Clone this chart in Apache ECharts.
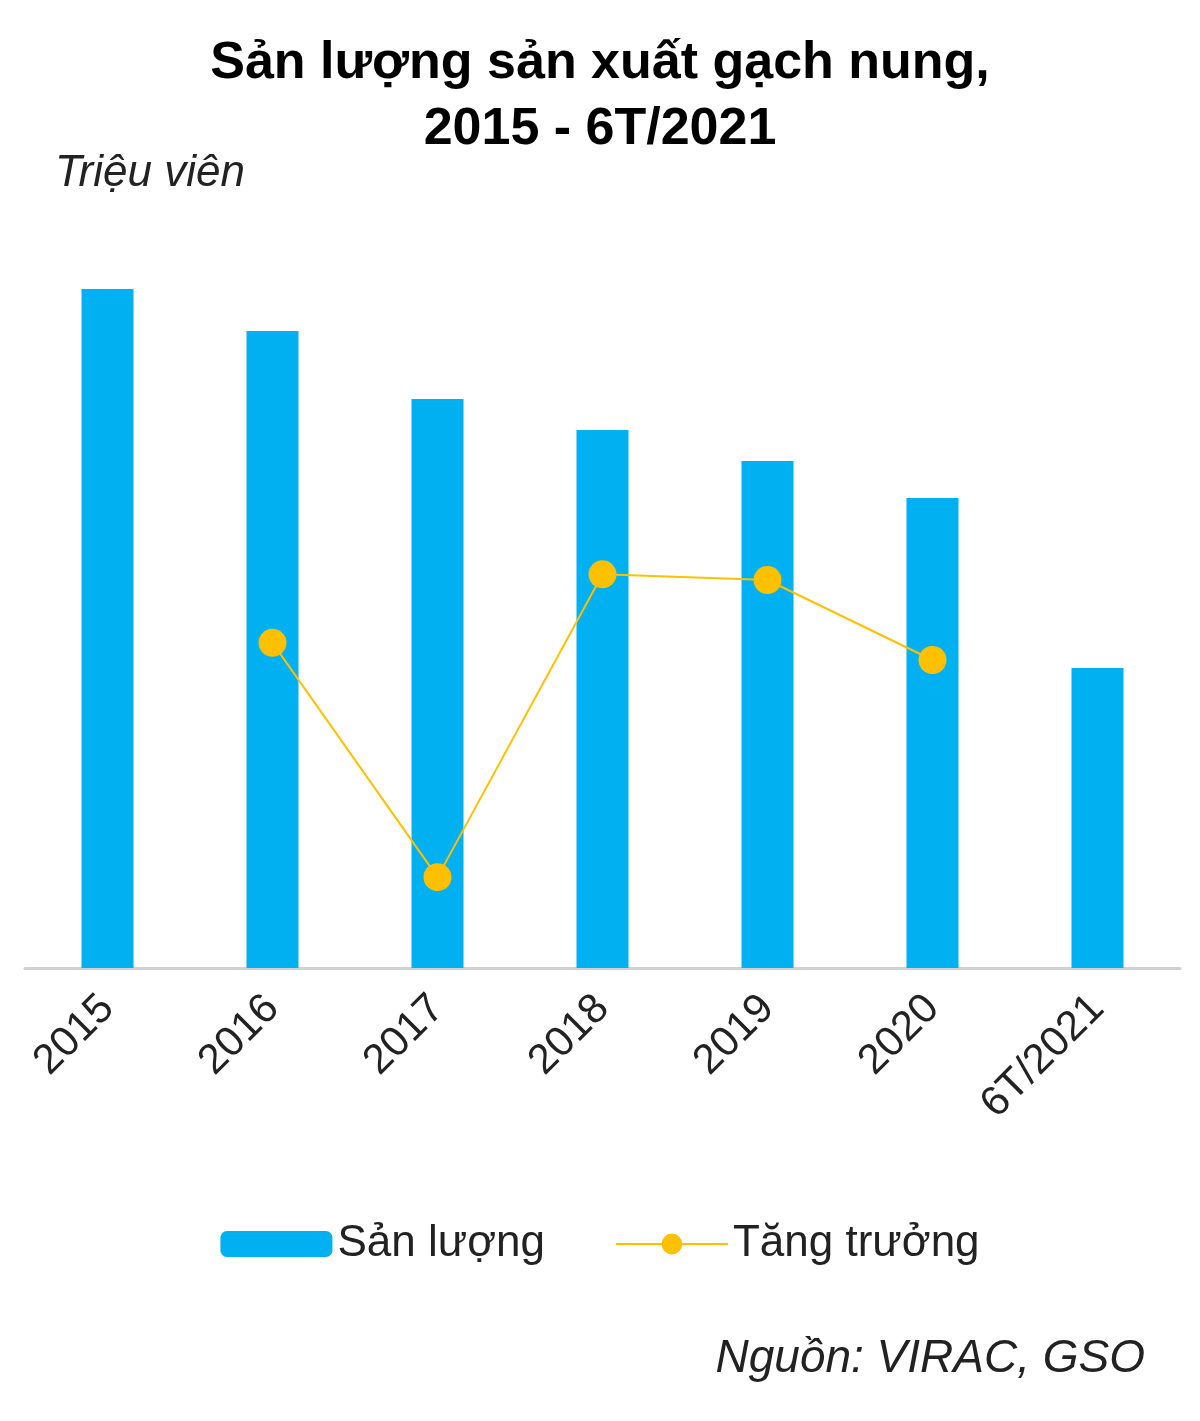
<!DOCTYPE html><html><head><meta charset="utf-8">
<script src="https://cdn.jsdelivr.net/npm/echarts@6/dist/echarts.min.js"></script>
<style>body{margin:0}#c{width:1200px;height:1421px}</style></head><body><div id="c"></div>
<script>
const categories=['2015','2016','2017','2018','2019','2020','6T/2021'];
const sanLuong=[679,637,569,538,507,470,300];
const tangTruong=[null,-6.6,-10.7,-5.4,-5.5,-6.9,null];
const ch=echarts.init(document.getElementById('c'));
ch.setOption({
 animation:false,
 title:{text:'Sản lượng sản xuất gạch nung,\n2015 - 6T/2021',left:'center',top:26,textStyle:{fontFamily:'Liberation Sans',fontWeight:'bold',fontSize:52,lineHeight:66,color:'#000'}},
 graphic:[{type:'text',left:55,top:152,style:{text:'Triệu viên',font:'italic 44px Liberation Sans',fill:'#222'}},
  {type:'text',right:55,top:1336,style:{text:'Nguồn: VIRAC, GSO',font:'italic 46px Liberation Sans',fill:'#222'}}],
 legend:{bottom:150,left:'center',itemGap:70,itemWidth:112,itemHeight:26,textStyle:{fontFamily:'Liberation Sans',fontSize:44,color:'#222'},data:[{name:'Sản lượng',itemStyle:{borderRadius:0}},'Tăng trưởng']},
 grid:{left:25,right:20,top:200,bottom:453},
 xAxis:{type:'category',data:categories,axisTick:{show:false},axisLine:{lineStyle:{color:'#d0d0d0',width:3}},
  axisLabel:{rotate:45,fontFamily:'Liberation Sans',fontSize:42,color:'#222',margin:34,interval:0}},
 yAxis:[{type:'value',min:0,max:768,show:false,splitLine:{show:false}},
  {type:'value',min:-12.29,max:1.15,show:false,splitLine:{show:false}}],
 series:[{name:'Sản lượng',type:'bar',data:sanLuong,barWidth:52,itemStyle:{color:'#00b0f0',borderRadius:0}},
  {name:'Tăng trưởng',type:'line',yAxisIndex:1,data:tangTruong,symbol:'circle',symbolSize:28,
   lineStyle:{color:'#ffc000',width:2},itemStyle:{color:'#ffc000'}}]
});
</script></body></html>
